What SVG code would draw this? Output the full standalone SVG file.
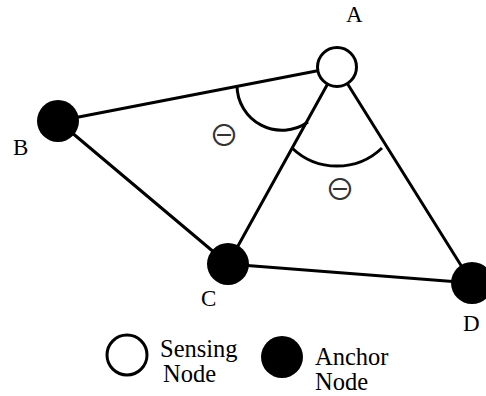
<svg xmlns="http://www.w3.org/2000/svg" width="486" height="396" viewBox="0 0 486 396">
  <style>
    .edge { stroke: #000; stroke-width: 3; fill: none; stroke-linecap: round; }
    .arc { stroke: #000; stroke-width: 3; fill: none; }
    .sensing { fill: #fff; stroke: #000; stroke-width: 3; }
    .anchor { fill: #000; }
    .lbl { font-family: "Liberation Serif", "Times New Roman", serif; font-size: 23px; fill: #000; }
    .leg { font-family: "Liberation Serif", "Times New Roman", serif; font-size: 24.5px; fill: #000; }
    .ang { font-family: "Noto Sans CJK JP", "DejaVu Sans", sans-serif; font-size: 30px; fill: #333; text-anchor: middle; }
  </style>
  <rect width="486" height="396" fill="#fff"/>

  <g id="connectors">
    <line class="edge" x1="58" y1="121" x2="337" y2="67"/>
    <line class="edge" x1="228" y1="264" x2="337" y2="67"/>
    <line class="edge" x1="337" y1="67" x2="472" y2="283"/>
    <line class="edge" x1="58" y1="121" x2="228" y2="264"/>
    <line class="edge" x1="228" y1="264" x2="472" y2="283"/>
  </g>

  <g id="angles">
    <path class="arc" d="M237,85 A45,45 0 0,0 308,122"/>
    <path class="arc" d="M292,148 A65,65 0 0,0 382,148"/>
    <text class="ang" x="224" y="146">⊖</text>
    <text class="ang" x="340" y="200">⊖</text>
  </g>

  <g id="node-A">
    <circle class="sensing" cx="337" cy="67" r="19.5"/>
    <text class="lbl" x="346" y="22">A</text>
  </g>
  <g id="node-B">
    <circle class="anchor" cx="58" cy="121" r="21"/>
    <text class="lbl" x="13" y="155">B</text>
  </g>
  <g id="node-C">
    <circle class="anchor" cx="228" cy="264" r="21"/>
    <text class="lbl" x="201" y="306">C</text>
  </g>
  <g id="node-D">
    <circle class="anchor" cx="472" cy="283" r="21"/>
    <text class="lbl" x="463" y="331">D</text>
  </g>

  <g id="legend">
    <circle class="sensing" cx="127" cy="355" r="20"/>
    <text class="leg" x="160" y="357">Sensing</text>
    <text class="leg" x="163" y="382">Node</text>
    <circle class="anchor" cx="282" cy="357" r="21"/>
    <text class="leg" x="315" y="365">Anchor</text>
    <text class="leg" x="315" y="390">Node</text>
  </g>
</svg>
